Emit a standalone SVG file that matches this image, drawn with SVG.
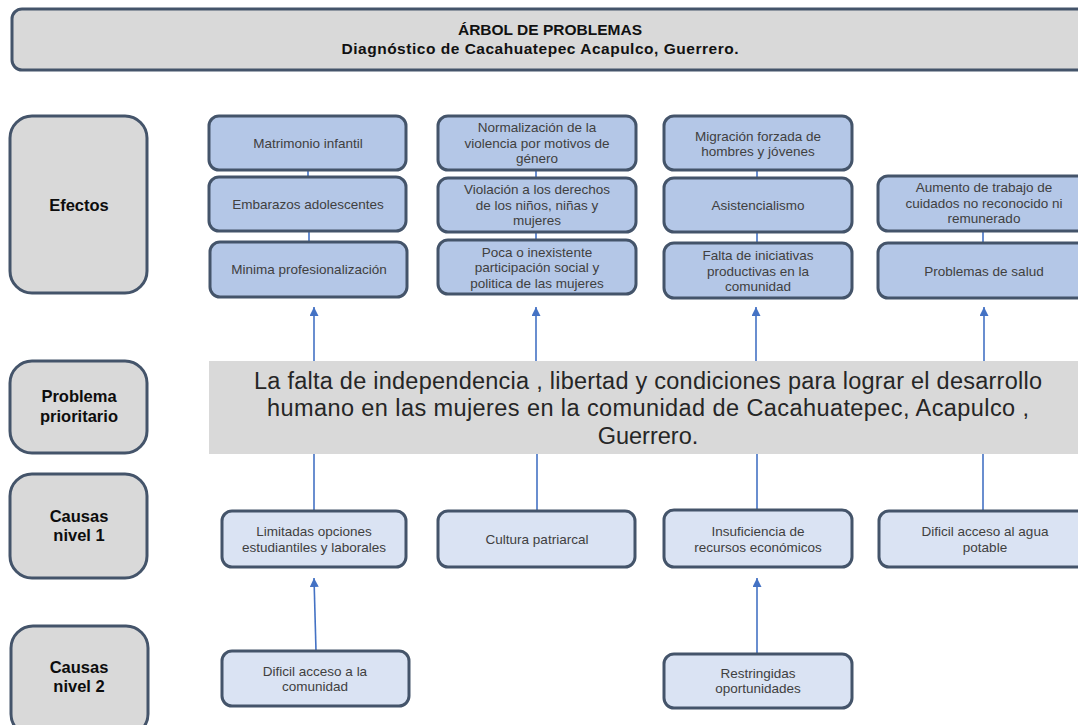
<svg xmlns="http://www.w3.org/2000/svg" width="1078" height="725" viewBox="0 0 1078 725">
<defs>
<style>
.lbl{fill:#d9d9d9;stroke:#44546a;stroke-width:3}
.eff{fill:#b4c7e7;stroke:#44546a;stroke-width:3}
.cau{fill:#dae3f3;stroke:#44546a;stroke-width:3}
.lt{font-family:"Liberation Sans",Arial,sans-serif;font-weight:bold;font-size:16.5px;fill:#0d0d0d;text-anchor:middle}
.nt{font-family:"Liberation Sans",Arial,sans-serif;font-size:13.5px;fill:#404040;text-anchor:middle}
.pt{font-family:"Liberation Sans",Arial,sans-serif;font-size:23.5px;fill:#262626;text-anchor:middle}
.tt{font-family:"Liberation Sans",Arial,sans-serif;font-size:15.5px;font-weight:bold;fill:#111;text-anchor:middle}
.con{stroke:#4472c4;stroke-width:1.6;fill:none}
</style>
<marker id="ah" markerUnits="userSpaceOnUse" markerWidth="10" markerHeight="10" refX="9" refY="4.5" orient="auto">
<path d="M0,0 L9,4.5 L0,9 z" fill="#4472c4"/>
</marker>
</defs>
<rect width="1078" height="725" fill="#ffffff"/>

<g id="title">
<rect x="12" y="9" width="1080" height="61" rx="10" class="lbl"/>
<text x="550" y="35" class="tt">ÁRBOL DE PROBLEMAS</text>
<text x="540" y="54" class="tt" textLength="397">Diagnóstico  de Cacahuatepec Acapulco, Guerrero.</text>
</g>

<g id="lbl-efectos"><rect x="10" y="116" width="137" height="177" rx="22" class="lbl"/><text x="79" y="211" class="lt">Efectos</text></g>
<g id="lbl-problema"><rect x="10" y="361" width="137" height="92" rx="22" class="lbl"/><text x="79" y="402" class="lt">Problema</text><text x="79" y="422" class="lt">prioritario</text></g>
<g id="lbl-causas1"><rect x="10" y="474" width="137" height="104" rx="22" class="lbl"/><text x="79" y="522" class="lt">Causas</text><text x="79" y="541" class="lt">nivel 1</text></g>
<g id="lbl-causas2"><rect x="11" y="626" width="137" height="110" rx="22" class="lbl"/><text x="79" y="673" class="lt">Causas</text><text x="79" y="692" class="lt">nivel 2</text></g>

<g id="connectors">
<line x1="308" y1="170" x2="308" y2="177" class="con"/>
<line x1="309" y1="231" x2="309" y2="242" class="con"/>
<line x1="536" y1="170" x2="536" y2="178" class="con"/>
<line x1="536" y1="232" x2="536" y2="240" class="con"/>
<line x1="757" y1="170" x2="757" y2="178" class="con"/>
<line x1="757" y1="232" x2="757" y2="243" class="con"/>
<line x1="983" y1="231" x2="983" y2="243" class="con"/>
<line x1="314" y1="361" x2="314" y2="307" class="con" marker-end="url(#ah)"/>
<line x1="536" y1="361" x2="536" y2="307" class="con" marker-end="url(#ah)"/>
<line x1="756" y1="361" x2="756" y2="307" class="con" marker-end="url(#ah)"/>
<line x1="984" y1="361" x2="984" y2="307" class="con" marker-end="url(#ah)"/>
<line x1="314" y1="454" x2="314" y2="511" class="con"/>
<line x1="537" y1="454" x2="537" y2="511" class="con"/>
<line x1="757" y1="454" x2="757" y2="510" class="con"/>
<line x1="983" y1="454" x2="983" y2="511" class="con"/>
<line x1="316" y1="651" x2="314" y2="578" class="con" marker-end="url(#ah)"/>
<line x1="757" y1="654" x2="757" y2="578" class="con" marker-end="url(#ah)"/>
</g>

<g id="problema">
<rect x="209" y="361" width="875" height="93" fill="#d9d9d9"/>
<text x="648" y="389" class="pt" textLength="788">La falta de independencia , libertad y condiciones para lograr  el desarrollo</text>
<text x="648" y="416" class="pt" textLength="762">humano  en las mujeres en la comunidad de Cacahuatepec, Acapulco ,</text>
<text x="648" y="444" class="pt">Guerrero.</text>
</g>

<g id="e-matrimonio"><rect x="209" y="116" width="197" height="54" rx="10" class="eff"/><text x="308" y="148" class="nt">Matrimonio infantil</text></g>
<g id="e-embarazos"><rect x="209" y="177" width="197" height="54" rx="10" class="eff"/><text x="308" y="209" class="nt">Embarazos adolescentes</text></g>
<g id="e-minima"><rect x="210" y="242" width="197" height="55" rx="10" class="eff"/><text x="309" y="274" class="nt">Minima profesionalización</text></g>

<g id="e-normalizacion"><rect x="438" y="116" width="198" height="54" rx="10" class="eff"/><text x="537" y="132" class="nt">Normalización de la</text><text x="537" y="148" class="nt">violencia por motivos de</text><text x="537" y="163" class="nt">género</text></g>
<g id="e-violacion"><rect x="438" y="178" width="198" height="54" rx="10" class="eff"/><text x="537" y="194" class="nt">Violación a los derechos</text><text x="537" y="210" class="nt">de los niños, niñas  y</text><text x="537" y="225" class="nt">mujeres</text></g>
<g id="e-poca"><rect x="438" y="240" width="198" height="54" rx="10" class="eff"/><text x="537" y="257" class="nt">Poca o inexistente</text><text x="537" y="272" class="nt">participación social y</text><text x="537" y="288" class="nt">politica de las mujeres</text></g>

<g id="e-migracion"><rect x="664" y="116" width="188" height="54" rx="10" class="eff"/><text x="758" y="141" class="nt">Migración forzada de</text><text x="758" y="156" class="nt">hombres y jóvenes</text></g>
<g id="e-asistencialismo"><rect x="664" y="178" width="188" height="54" rx="10" class="eff"/><text x="758" y="210" class="nt">Asistencialismo</text></g>
<g id="e-falta"><rect x="664" y="243" width="188" height="55" rx="10" class="eff"/><text x="758" y="260" class="nt">Falta de iniciativas</text><text x="758" y="276" class="nt">productivas en la</text><text x="758" y="291" class="nt">comunidad</text></g>

<g id="e-aumento"><rect x="878" y="176" width="212" height="55" rx="10" class="eff"/><text x="984" y="192" class="nt">Aumento de trabajo de</text><text x="984" y="208" class="nt">cuidados no reconocido ni</text><text x="984" y="223" class="nt">remunerado</text></g>
<g id="e-salud"><rect x="878" y="243" width="212" height="55" rx="10" class="eff"/><text x="984" y="276" class="nt">Problemas de salud</text></g>

<g id="c1-limitadas"><rect x="222" y="511" width="184" height="56" rx="10" class="cau"/><text x="314" y="536" class="nt">Limitadas opciones</text><text x="314" y="552" class="nt">estudiantiles y laborales</text></g>
<g id="c1-cultura"><rect x="438" y="511" width="197" height="56" rx="10" class="cau"/><text x="537" y="544" class="nt">Cultura patriarcal</text></g>
<g id="c1-insuficiencia"><rect x="664" y="510" width="188" height="57" rx="10" class="cau"/><text x="758" y="536" class="nt">Insuficiencia de</text><text x="758" y="552" class="nt">recursos económicos</text></g>
<g id="c1-agua"><rect x="879" y="511" width="212" height="56" rx="10" class="cau"/><text x="985" y="536" class="nt">Dificil acceso al agua</text><text x="985" y="552" class="nt">potable</text></g>

<g id="c2-acceso"><rect x="222" y="651" width="187" height="55" rx="10" class="cau"/><text x="315" y="676" class="nt">Dificil acceso a la</text><text x="315" y="691" class="nt">comunidad</text></g>
<g id="c2-restringidas"><rect x="664" y="654" width="188" height="54" rx="10" class="cau"/><text x="758" y="678" class="nt">Restringidas</text><text x="758" y="693" class="nt">oportunidades</text></g>
</svg>
